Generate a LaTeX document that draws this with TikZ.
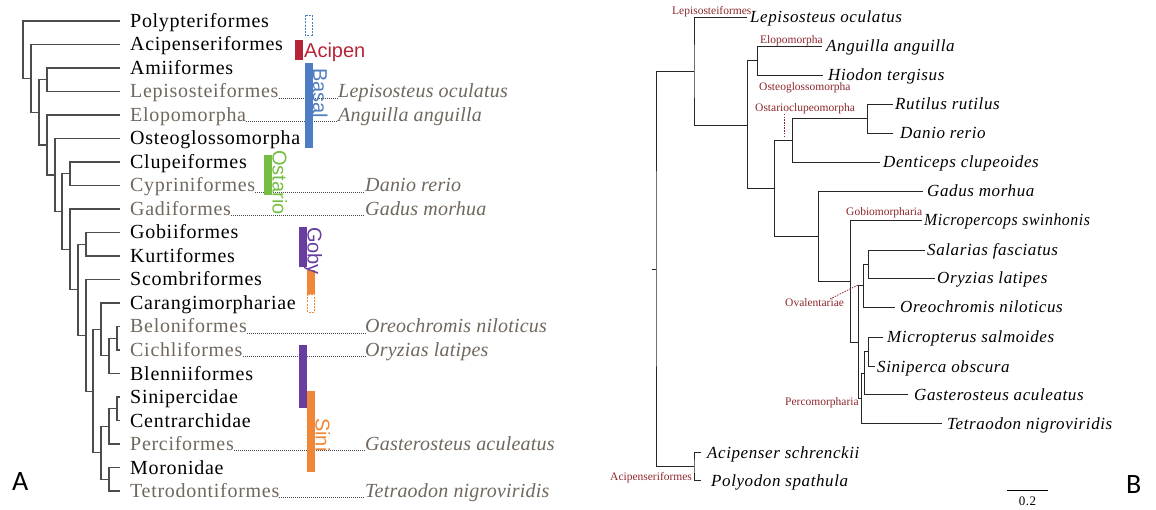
\documentclass[tikz,border=0pt]{standalone}
\usepackage{fontspec}
\setmainfont{Liberation Serif}
\newfontfamily\taxfont[LetterSpace=3.5]{Liberation Serif}
\newfontfamily\sptfont[LetterSpace=1]{Liberation Serif}
\newfontfamily\spbfont[LetterSpace=3.5]{Liberation Serif}
\newfontfamily\cladefont{Liberation Sans}
\newfontfamily\panelfnt{Carlito}
\usetikzlibrary{calc}
\definecolor{taupe}{RGB}{112,103,93}
\definecolor{acired}{RGB}{183,36,56}
\definecolor{basblue}{RGB}{79,125,196}
\definecolor{ostgreen}{RGB}{118,190,67}
\definecolor{gobpurple}{RGB}{103,62,160}
\definecolor{sinorange}{RGB}{240,134,55}
\definecolor{cladered}{RGB}{140,40,45}

\begin{document}
\begin{tikzpicture}[x=1pt,y=-1pt]
    \tikzstyle{branch}=[line width=1.2pt,black!70]
    \tikzstyle{bbranch}=[line width=0.9pt,black!85]
    \tikzstyle{taxon}=[anchor=base west,inner sep=0pt,font=\taxfont\fontsize{20}{24}\selectfont]
    \tikzstyle{spec}=[anchor=base west,inner sep=0pt,text=taupe,font=\sptfont\itshape\fontsize{20}{24}\selectfont]
    \tikzstyle{bspec}=[anchor=base west,inner sep=0pt,font=\spbfont\itshape\fontsize{17}{20}\selectfont]
    \tikzstyle{guide}=[black!72,line width=0.8pt,dash pattern=on 1pt off 1pt]
    \tikzstyle{clade}=[inner sep=0pt,anchor=base west,font=\cladefont\fontsize{20}{24}\selectfont]
    \tikzstyle{redlab}=[inner sep=0pt,anchor=base west,text=cladered,font=\fontsize{11.5}{13}\selectfont]
    \tikzstyle{reddash}=[cladered,line width=0.8pt,dash pattern=on 1.5pt off 1.2pt]
    \tikzstyle{openbar}=[line width=0.7pt,dash pattern=on 2pt off 1.2pt]
    \tikzstyle{panel}=[inner sep=0pt,anchor=base west,font=\panelfnt\fontsize{28}{32}\selectfont]
    \useasboundingbox (0,0) rectangle (1156,510);

    % panel A: leaves
    \node[taxon] (l_0) at (130,27.5) {Polypteriformes};
    \node[taxon] (l_1) at (130,51) {Acipenseriformes};
    \node[taxon] (l_2) at (130,74.5) {Amiiformes};
    \node[taxon,text=taupe] (l_3) at (130,98) {Lepisosteiformes};
    \node[taxon,text=taupe] (l_4) at (130,121.5) {Elopomorpha};
    \node[taxon] (l_5) at (130,145) {Osteoglossomorpha};
    \node[taxon] (l_6) at (130,168.5) {Clupeiformes};
    \node[taxon,text=taupe] (l_7) at (130,192) {Cypriniformes};
    \node[taxon,text=taupe] (l_8) at (130,215.5) {Gadiformes};
    \node[taxon] (l_9) at (130,239) {Gobiiformes};
    \node[taxon] (l_10) at (130,262.5) {Kurtiformes};
    \node[taxon] (l_11) at (130,286) {Scombriformes};
    \node[taxon] (l_12) at (130,309.5) {Carangimorphariae};
    \node[taxon,text=taupe] (l_13) at (130,333) {Beloniformes};
    \node[taxon,text=taupe] (l_14) at (130,356.5) {Cichliformes};
    \node[taxon] (l_15) at (130,380) {Blenniiformes};
    \node[taxon] (l_16) at (130,403.5) {Sinipercidae};
    \node[taxon] (l_17) at (130,427) {Centrarchidae};
    \node[taxon,text=taupe] (l_18) at (130,450.5) {Perciformes};
    \node[taxon] (l_19) at (130,474) {Moronidae};
    \node[taxon,text=taupe] (l_20) at (130,497.5) {Tetrodontiformes};

    \coordinate (t_0) at (120,21);
    \coordinate (t_1) at (120,44.5);
    \coordinate (t_2) at (120,68);
    \coordinate (t_3) at (120,91.5);
    \coordinate (t_4) at (120,115);
    \coordinate (t_5) at (120,138.5);
    \coordinate (t_6) at (120,162);
    \coordinate (t_7) at (120,185.5);
    \coordinate (t_8) at (120,209);
    \coordinate (t_9) at (120,232.5);
    \coordinate (t_10) at (120,256);
    \coordinate (t_11) at (120,279.5);
    \coordinate (t_12) at (120,303);
    \coordinate (t_13) at (120,326.5);
    \coordinate (t_14) at (120,350);
    \coordinate (t_15) at (120,373.5);
    \coordinate (t_16) at (120,397);
    \coordinate (t_17) at (120,420.5);
    \coordinate (t_18) at (120,444);
    \coordinate (t_19) at (120,467.5);
    \coordinate (t_20) at (120,491);

    % panel A: inner nodes
    \coordinate (n_0) at (23,49.7);
    \coordinate (n_1) at (31,78.4);
    \coordinate (n_2) at (39,112.4);
    \coordinate (n_3) at (47,79.75);
    \coordinate (n_4) at (47,145);
    \coordinate (n_5) at (55,175);
    \coordinate (n_6) at (62,211.6);
    \coordinate (n_7) at (70,173.75);
    \coordinate (n_8) at (70,249.4);
    \coordinate (n_9) at (78,289.8);
    \coordinate (n_10) at (86,244.25);
    \coordinate (n_11) at (86,335.3);
    \coordinate (n_12) at (93,391.1);
    \coordinate (n_13) at (101,329.4);
    \coordinate (n_14) at (101,452.8);
    \coordinate (n_15) at (109,355.9);
    \coordinate (n_16) at (117,338.25);
    \coordinate (n_17) at (109,426.4);
    \coordinate (n_18) at (109,479.25);
    \coordinate (n_19) at (117,408.75);

    \draw[branch] (t_0) -| (n_0) |- (n_1);
    \draw[branch] (t_1) -| (n_1) |- (n_2);
    \draw[branch] (n_3) -| (n_2) |- (n_4);
    \draw[branch] (t_2) -| (n_3) |- (t_3);
    \draw[branch] (t_4) -| (n_4) |- (n_5);
    \draw[branch] (t_5) -| (n_5) |- (n_6);
    \draw[branch] (n_7) -| (n_6) |- (n_8);
    \draw[branch] (t_6) -| (n_7) |- (t_7);
    \draw[branch] (t_8) -| (n_8) |- (n_9);
    \draw[branch] (n_10) -| (n_9) |- (n_11);
    \draw[branch] (t_9) -| (n_10) |- (t_10);
    \draw[branch] (t_11) -| (n_11) |- (n_12);
    \draw[branch] (n_13) -| (n_12) |- (n_14);
    \draw[branch] (t_12) -| (n_13) |- (n_15);
    \draw[branch] (n_16) -| (n_15) |- (t_15);
    \draw[branch] (t_13) -| (n_16) |- (t_14);
    \draw[branch] (n_17) -| (n_14) |- (n_18);
    \draw[branch] (n_19) -| (n_17) |- (t_18);
    \draw[branch] (t_16) -| (n_19) |- (t_17);
    \draw[branch] (t_19) -| (n_18) |- (t_20);

    % panel A: genomes
    \node[spec] (s_3) at (338,98) {Lepisosteus oculatus};
    \node[spec] (s_4) at (338,121.5) {Anguilla anguilla};
    \node[spec] (s_7) at (365,192) {Danio rerio};
    \node[spec] (s_8) at (365,215.5) {Gadus morhua};
    \node[spec] (s_13) at (365,333) {Oreochromis niloticus};
    \node[spec] (s_14) at (365,356.5) {Oryzias latipes};
    \node[spec] (s_18) at (365,450.5) {Gasterosteus aculeatus};
    \node[spec] (s_20) at (365,497.5) {Tetraodon nigroviridis};
    \draw[guide] (l_3.base east) -- (s_3.base west);
    \draw[guide] (l_4.base east) -- (s_4.base west);
    \draw[guide] (l_7.base east) -- (s_7.base west);
    \draw[guide] (l_8.base east) -- (s_8.base west);
    \draw[guide] (l_13.base east) -- (s_13.base west);
    \draw[guide] (l_14.base east) -- (s_14.base west);
    \draw[guide] (l_18.base east) -- (s_18.base west);
    \draw[guide] (l_20.base east) -- (s_20.base west);

    % panel A: bars
    \draw[basblue,openbar] (305,15) rectangle (312,35);
    \fill[acired] (295,40) rectangle (303,60);
    \fill[basblue] (304.5,63) rectangle (312.5,148);
    \fill[ostgreen] (264,155) rectangle (272,195);
    \fill[gobpurple] (299,227) rectangle (307,267);
    \fill[sinorange] (307,270) rectangle (315,294);
    \draw[sinorange,openbar] (307.5,294) rectangle (314.5,312);
    \fill[gobpurple] (299,345) rectangle (307,408);
    \fill[sinorange] (307,391) rectangle (315,472);
    \node[clade,text=acired] (c_acipen) at (304,57.5) {Acipen};
    \node[clade,text=basblue,rotate=-90] (c_basal) at (313,68) {Basal};
    \node[clade,text=ostgreen,rotate=-90] (c_ostario) at (272.5,150) {Ostario};
    \node[clade,text=gobpurple,rotate=-90] (c_goby) at (307.5,227) {Goby};
    \node[clade,text=sinorange,rotate=-90] (c_sini) at (315.5,418) {Sini};
    \node[panel] (p_a) at (12,490) {A};

    % panel B: tips
    \coordinate (k_1) at (747,17);
    \coordinate (k_2) at (822,46);
    \coordinate (k_3) at (823,75);
    \coordinate (k_4) at (893,104);
    \coordinate (k_5) at (893,133);
    \coordinate (k_6) at (880,162);
    \coordinate (k_7) at (923,191);
    \coordinate (k_8) at (922,220);
    \coordinate (k_9) at (925,250);
    \coordinate (k_10) at (935,278);
    \coordinate (k_11) at (895,307);
    \coordinate (k_12) at (883,337);
    \coordinate (k_13) at (875,366);
    \coordinate (k_14) at (908,394);
    \coordinate (k_15) at (942,423);
    \coordinate (k_16) at (701,452);
    \coordinate (k_17) at (701,480);
    \node[bspec] (b_1) at (750,23) {Lepisosteus oculatus};
    \node[bspec] (b_2) at (826,52) {Anguilla anguilla};
    \node[bspec] (b_3) at (828,81) {Hiodon tergisus};
    \node[bspec] (b_4) at (895,110) {Rutilus rutilus};
    \node[bspec] (b_5) at (900,139) {Danio rerio};
    \node[bspec] (b_6) at (883,168) {Denticeps clupeoides};
    \node[bspec] (b_7) at (927,197) {Gadus morhua};
    \node[bspec] (b_8) at (924,226) {\scalebox{0.93}[1]{Micropercops swinhonis}};
    \node[bspec] (b_9) at (927,256) {Salarias fasciatus};
    \node[bspec] (b_10) at (937,284) {Oryzias latipes};
    \node[bspec] (b_11) at (900,313) {Oreochromis niloticus};
    \node[bspec] (b_12) at (887,343) {Micropterus salmoides};
    \node[bspec] (b_13) at (877,372) {Siniperca obscura};
    \node[bspec] (b_14) at (914,400) {Gasterosteus aculeatus};
    \node[bspec] (b_15) at (947,429) {Tetraodon nigroviridis};
    \node[bspec] (b_16) at (707,458) {Acipenser schrenckii};
    \node[bspec] (b_17) at (711,486) {Polyodon spathula};

    % panel B: inner nodes
    \coordinate (m_r) at (652,269);
    \coordinate (m_0) at (656,269);
    \coordinate (m_1) at (694,71);
    \coordinate (m_2) at (747,125);
    \coordinate (m_3) at (757,60.5);
    \coordinate (m_4) at (774,188.5);
    \coordinate (m_5) at (792,140.5);
    \coordinate (m_6) at (818,236);
    \coordinate (m_7) at (867,118.5);
    \coordinate (m_8) at (850,281);
    \coordinate (m_9) at (858,342);
    \coordinate (m_10) at (863,285.5);
    \coordinate (m_11) at (861,398);
    \coordinate (m_12) at (868,264);
    \coordinate (m_13) at (864,373);
    \coordinate (m_14) at (868,351.5);
    \coordinate (m_a) at (694,466);

    \draw[bbranch] (m_r) -- (m_0);
    \draw[bbranch] (m_1) -| (m_0) |- (m_a);
    \draw[bbranch] (k_1) -| (m_1) |- (m_2);
    \draw[bbranch] (m_3) -| (m_2) |- (m_4);
    \draw[bbranch] (k_2) -| (m_3) |- (k_3);
    \draw[bbranch] (m_5) -| (m_4) |- (m_6);
    \draw[bbranch] (m_7) -| (m_5) |- (k_6);
    \draw[bbranch] (k_4) -| (m_7) |- (k_5);
    \draw[bbranch] (k_7) -| (m_6) |- (m_8);
    \draw[bbranch] (k_8) -| (m_8) |- (m_9);
    \draw[bbranch] (m_10) -| (m_9) |- (m_11);
    \draw[bbranch] (m_12) -| (m_10) |- (k_11);
    \draw[bbranch] (k_9) -| (m_12) |- (k_10);
    \draw[bbranch] (m_13) -| (m_11) |- (k_15);
    \draw[bbranch] (m_14) -| (m_13) |- (k_14);
    \draw[bbranch] (k_12) -| (m_14) |- (k_13);
    \draw[bbranch] (k_16) -| (m_a) |- (k_17);

    % panel B: clade names
    \node[redlab] (r_lep) at (672,15) {Lepisosteiformes};
    \node[redlab] (r_elo) at (760,44) {Elopomorpha};
    \node[redlab] (r_ost) at (759,90.5) {Osteoglossomorpha};
    \node[redlab] (r_oc) at (755,112) {Ostarioclupeomorpha};
    \node[redlab] (r_gob) at (846,216) {Gobiomorpharia};
    \node[redlab] (r_ova) at (785,307) {Ovalentariae};
    \node[redlab] (r_per) at (785,405) {Percomorpharia};
    \node[redlab] (r_aci) at (610,480) {Acipenseriformes};
    \coordinate (o_1) at (784,114);
    \coordinate (o_2) at (784,137);
    \coordinate (o_3) at (830,299);
    \coordinate (o_4) at (858,285);
    \draw[reddash] (o_1) -- (o_2);
    \draw[reddash] (o_3) -- (o_4);

    % scale bar
    \coordinate (sb_1) at (1007,490);
    \coordinate (sb_2) at (1048,490);
    \draw[line width=0.8pt] (sb_1) -- (sb_2);
    \node[inner sep=0pt,anchor=base,font=\spbfont\fontsize{13}{15}\selectfont] (sb_t) at (1027.5,505) {0.2};
    \node[panel] (p_b) at (1126,493) {B};
\end{tikzpicture}
\end{document}
